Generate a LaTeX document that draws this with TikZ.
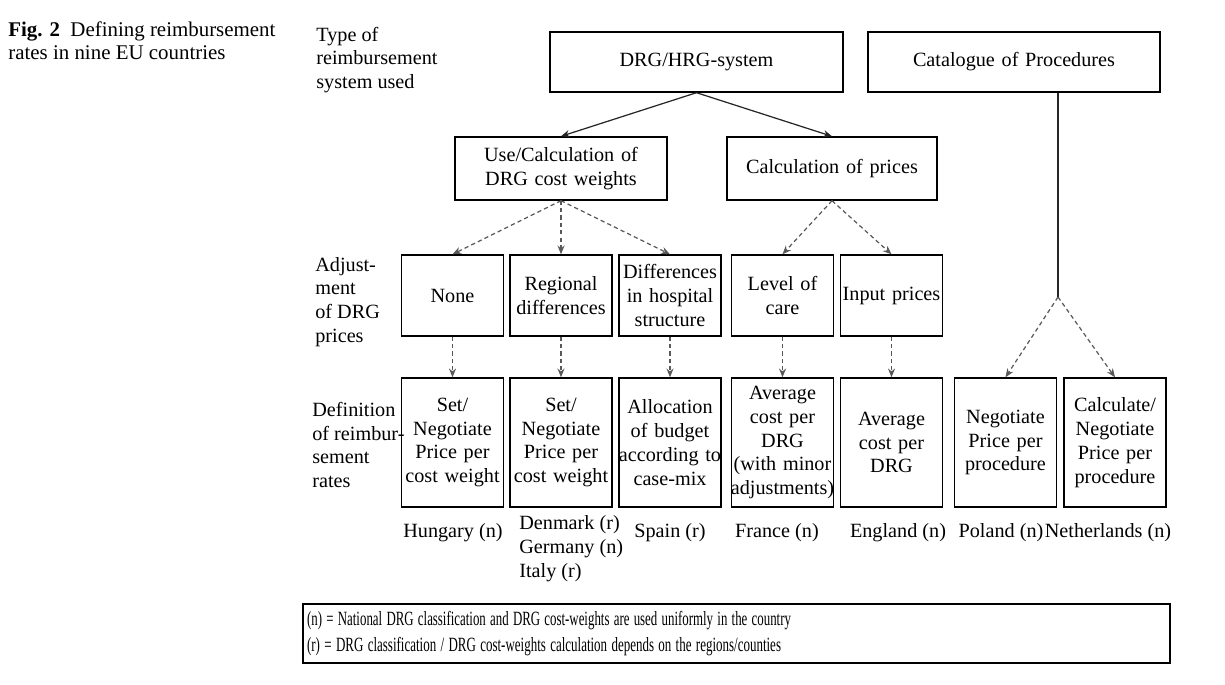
\documentclass[tikz,border=0pt]{standalone}
\usepackage{fontspec}
\usepackage{graphicx}
\setmainfont{Liberation Serif}
\usetikzlibrary{arrows.meta}

\begin{document}
\begin{tikzpicture}
[x=0.02cm, y=-0.02cm, font=\fontsize{11.5}{13.6}\selectfont,
 box/.style={draw, line width=0.8pt, inner sep=0pt, align=center},
 top box/.style={box, minimum height=1.2cm},
 mid box/.style={box, minimum height=1.26cm},
 adj box/.style={box, text width=2.04cm, minimum height=1.62cm},
 rate box/.style={box, text width=2.04cm, minimum height=2.58cm},
 solid arrow/.style={-{Stealth[length=5pt,width=4pt]}, line width=0.7pt, black!85},
 dashed arrow/.style={-{Stealth[length=5pt,width=4pt]}, line width=0.7pt, black!65, dash pattern=on 2.4pt off 1.8pt},
 side label/.style={anchor=west, align=left, inner sep=0pt},
 country/.style={inner sep=0pt}]
\useasboundingbox (0,0) rectangle (1225,684);
% caption and row headings
\node[side label, font=\fontsize{11.9}{13.3}\selectfont] (caption) at (8,41) {\textbf{Fig. 2}\hspace{0.5em}Defining reimbursement\\rates in nine EU countries};
\node[side label] (typehead) at (316,60) {Type of\\reimbursement\\system used};
\node[side label] (adjhead) at (315,302) {Adjust-\\ment\\of DRG\\prices};
\node[side label] (defhead) at (312,445) {Definition\\of reimbur-\\sement\\rates};
% systems
\node[top box, text width=5.86cm] (drg) at (696.5,62) {DRG/HRG-system};
\node[top box, text width=5.84cm] (cat) at (1014,62) {Catalogue of Procedures};
\node[mid box, text width=4.24cm] (usecalc) at (561,168.5) {Use/Calculation of\\DRG cost weights};
\node[mid box, text width=4.2cm] (calcprice) at (832,168.5) {Calculation of prices};
% adjustments
\node[adj box] (none) at (452.5,295.5) {None};
\node[adj box] (regional) at (561,295.5) {Regional\\differences};
\node[adj box] (hospital) at (670,295.5) {Differences\\in hospital\\structure};
\node[adj box] (level) at (782.5,295.5) {Level of\\care};
\node[adj box] (input) at (891.5,295.5) {Input prices};
% reimbursement rates
\node[rate box] (setneg1) at (452.5,442.5) {Set/\\Negotiate\\Price per\\cost weight};
\node[rate box] (setneg2) at (561,442.5) {Set/\\Negotiate\\Price per\\cost weight};
\node[rate box] (alloc) at (670,442.5) {Allocation\\of budget\\\makebox[0pt]{according to}\\case-mix};
\node[rate box] (avgminor) at (782.5,442.5) {Average\\cost per\\DRG\\\makebox[0pt]{(with minor}\\\makebox[0pt]{adjustments)}};
\node[rate box] (avg) at (891.5,442.5) {Average\\cost per\\DRG};
\node[rate box] (negproc) at (1005.5,442.5) {Negotiate\\Price per\\procedure};
\node[rate box] (calcproc) at (1115,442.5) {Calculate/\\Negotiate\\Price per\\procedure};
% countries
\node[country] (hungary) at (453,533) {Hungary (n)};
\node[country, anchor=west, align=left] (denmark) at (519,549) {Denmark (r)\\Germany (n)\\Italy (r)};
\node[country] (spain) at (670,533) {Spain (r)};
\node[country] (france) at (777,533) {France (n)};
\node[country] (england) at (898,533) {England (n)};
\node[country] (poland) at (1001,533) {Poland (n)};
\node[country] (netherlands) at (1108,533) {Netherlands (n)};
% legend
\node[draw, line width=0.8pt, inner xsep=0.08cm, inner ysep=0pt, text width=17.18cm, minimum height=1.18cm, align=left, font=\fontsize{11.5}{14.5}\selectfont] (legend) at (736.5,633.5)
  {\resizebox{9.68cm}{\height}{(n) = National DRG classification and DRG cost-weights are used uniformly in the country}\\
   \resizebox{9.48cm}{\height}{(r) = DRG classification / DRG cost-weights calculation depends on the regions/counties}};
% connectors
\coordinate (split) at (1058,297);
\draw[solid arrow] (drg.south) -- (usecalc.north);
\draw[solid arrow] (drg.south) -- (calcprice.north);
\draw[line width=0.8pt, black!85] (cat.south -| split) -- (split);
\draw[dashed arrow] (split) -- (negproc.north);
\draw[dashed arrow] (split) -- (calcproc.north);
\draw[dashed arrow] (usecalc.south) -- (none.north);
\draw[dashed arrow] (usecalc.south) -- (regional.north);
\draw[dashed arrow] (usecalc.south) -- (hospital.north);
\draw[dashed arrow] (calcprice.south) -- (level.north);
\draw[dashed arrow] (calcprice.south) -- (input.north);
\draw[dashed arrow] (none.south) -- (setneg1.north);
\draw[dashed arrow] (regional.south) -- (setneg2.north);
\draw[dashed arrow] (hospital.south) -- (alloc.north);
\draw[dashed arrow] (level.south) -- (avgminor.north);
\draw[dashed arrow] (input.south) -- (avg.north);
\end{tikzpicture}
\end{document}
